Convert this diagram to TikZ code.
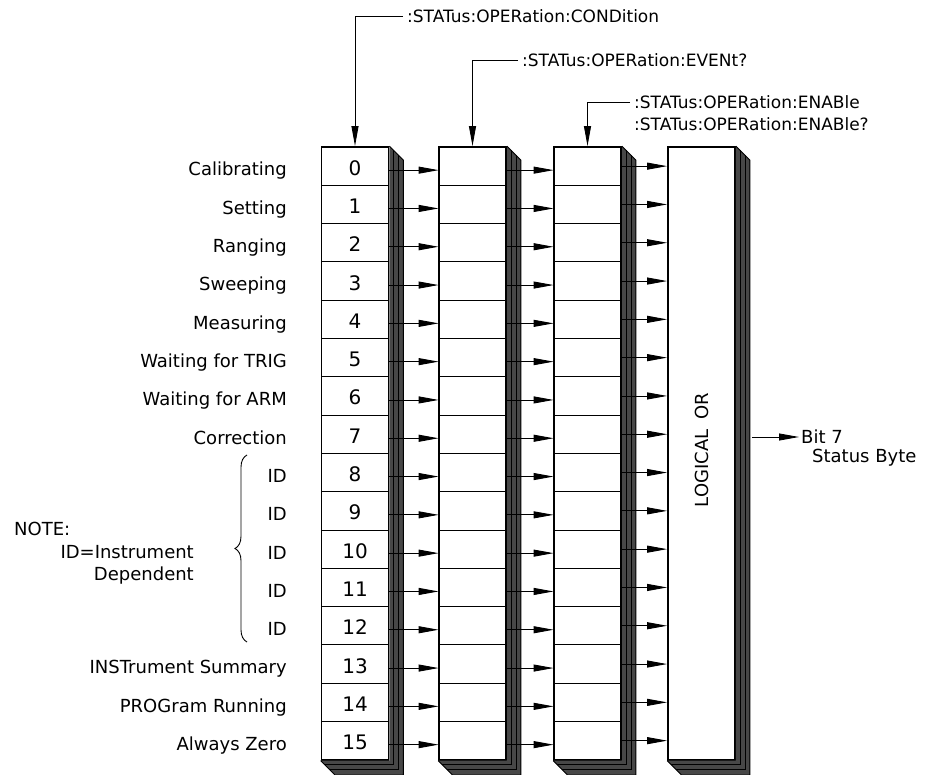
\documentclass[tikz,border=0pt]{standalone}
\usepackage{fontspec}
\setmainfont{DejaVu Sans}
\usetikzlibrary{arrows.meta,calc,decorations.pathreplacing}

\tikzset{
  lblfont/.style={font=\fontsize{18}{21}\selectfont},
  reg/.style={draw, line width=1.8pt, fill=white, minimum width=67pt, minimum height=612.8pt, inner sep=0pt},
  cell/.style={draw, line width=0.9pt, minimum width=67pt, minimum height=38.3pt, inner sep=0pt,
    text height=18pt, text depth=0pt, font=\fontsize{20}{22}\selectfont},
  bitlbl/.style={lblfont, anchor=base east, inner sep=0pt},
  cmdlbl/.style={anchor=west, inner sep=4pt, font=\fontsize{17}{20}\selectfont},
  arr/.style={-{Triangle[length=20pt,width=7pt]}, line width=0.9pt},
}

% 3D shadow at the right and bottom of a register
\newcommand{\regshade}[1]{%
  \fill[black!72] (#1.north east) -- ++(14,14) -- ($(#1.south east)+(14,14)$)
    -- ($(#1.south west)+(14,14)$) -- (#1.south west) -- (#1.south east) -- cycle;
  \foreach \k in {4,9} {
    \draw[line width=0.6pt] ($(#1.north east)+(\k,\k)$) -- ($(#1.south east)+(\k,\k)$) -- ($(#1.south west)+(\k,\k)$);
  }
  \draw[line width=0.9pt] (#1.north east) -- ++(14,14) -- ($(#1.south east)+(14,14)$)
    -- ($(#1.south west)+(14,14)$) -- (#1.south west);
}

\begin{document}
\begin{tikzpicture}[x=1pt, y=-1pt]
  \useasboundingbox (0,0) rectangle (931,775);

  % Registers
  \node[reg] (cond) at (355,453.4) {};
  \node[reg] (evnt) at (472.5,453.4) {};
  \node[reg] (enab) at (587.5,453.4) {};
  \node[reg] (orbox) at (701.5,453.4) {};
  \regshade{cond}
  \regshade{evnt}
  \regshade{enab}
  \regshade{orbox}

  % Bits
  \foreach \i in {0,...,15} {
    \node[cell] (c\i) at (355,{147+38.3*(\i+0.5)}) {\i};
    \node[cell] (ev\i) at (472.5,{147+38.3*(\i+0.5)}) {};
    \node[cell] (en\i) at (587.5,{147+38.3*(\i+0.5)}) {};
    \draw[arr] ([yshift=-4pt]c\i.east) -- ([yshift=-4pt]ev\i.west);
    \draw[arr] ([yshift=-4pt]ev\i.east) -- ([yshift=-4pt]en\i.west);
    \draw[arr] (en\i.east) -- (en\i.east -| orbox.west);
  }

  % Bit names
  \foreach \i/\t in {0/Calibrating, 1/Setting, 2/Ranging, 3/Sweeping, 4/Measuring,
      5/Waiting for TRIG, 6/Waiting for ARM, 7/Correction, 8/ID, 9/ID, 10/ID, 11/ID, 12/ID,
      13/INSTrument Summary, 14/PROGram Running, 15/Always Zero} {
    \node[bitlbl] (l\i) at (287,{147+38.3*\i+29}) {\t};
  }

  % Note on ID bits
  \draw[line width=0.9pt, decorate, decoration={brace, amplitude=12pt}] (247,642) -- (247,455);
  \node[lblfont, anchor=base west, inner sep=0pt] (note) at (14,535) {NOTE:};
  \node[lblfont, anchor=base east, inner sep=0pt] (idnote) at (194,558) {ID=Instrument};
  \node[lblfont, anchor=base east, inner sep=0pt] (depnote) at (194,580) {Dependent};

  % Commands
  \node[cmdlbl] (condcmd) at (403,16) {:STATus:OPERation:CONDition};
  \draw[arr] (condcmd.west) -| (cond.north);
  \node[cmdlbl] (evcmd) at (518,60) {:STATus:OPERation:EVENt?};
  \draw[arr] (evcmd.west) -| (evnt.north);
  \node[cmdlbl] (encmd) at (630,102) {:STATus:OPERation:ENABle};
  \node[cmdlbl] (enqcmd) at (630,124) {:STATus:OPERation:ENABle?};
  \draw[arr] (encmd.west) -| (enab.north);

  % Summary
  \node[lblfont, rotate=90] (orlbl) at (702,450) {LOGICAL\hspace{10pt}OR};
  \node[lblfont, anchor=west, inner sep=2pt] (bit) at (799,437) {Bit 7};
  \node[lblfont, anchor=west, inner sep=0pt] (sbyte) at (812,458) {Status Byte};
  \coordinate (orout) at ($(orbox.east |- bit.west)+(16,0)$);
  \draw[arr] (orout) -- (bit.west);
\end{tikzpicture}
\end{document}
